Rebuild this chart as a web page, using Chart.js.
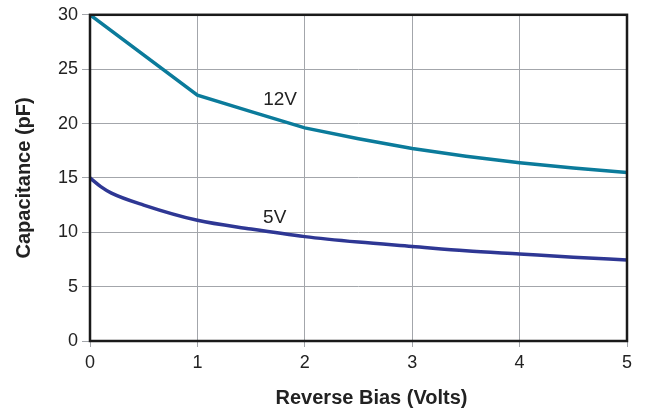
<!DOCTYPE html>
<html>
<head>
<meta charset="utf-8">
<script src="https://cdn.jsdelivr.net/npm/chart.js@4/dist/chart.umd.min.js"></script>
<style>
  html, body { margin: 0; padding: 0; background: #fff; }
  #wrap { width: 645px; height: 415px; }
</style>
</head>
<body>
<div id="wrap"><canvas id="capChart"></canvas></div>
<script>
// reverse bias (V) and capacitance (pF)
const bias12 = [0, 1, 1.5, 2, 2.5, 3, 3.5, 4, 4.5, 5];
const cap12 = [30, 22.6, 21.1, 19.6, 18.6, 17.7, 17.0, 16.4, 15.9, 15.5];
const bias5 = [0, 0.1, 0.2, 0.5, 1, 1.5, 2, 2.5, 3, 3.5, 4, 4.5, 5];
const cap5 = [15, 14.2, 13.6, 12.5, 11.1, 10.3, 9.6, 9.1, 8.7, 8.3, 8.0, 7.7, 7.45];
const xTicks = [0, 1, 2, 3, 4, 5];
const yTicks = [0, 5, 10, 15, 20, 25, 30];
const curveLabels = [
    { text: '12V', x: 1.77, y: 22.2 },
    { text: '5V', x: 1.72, y: 11.3 }
];
const xTitle = 'Reverse Bias (Volts)';

const fontFamily = '"Liberation Sans", Arial, Helvetica, sans-serif';

const toPoints = (xs, ys) => xs.map((x, i) => ({ x: x, y: ys[i] }));

// black frame round the plot area, curve names and the x title
const framePlugin = {
    id: 'frame',
    afterDatasetsDraw(chart) {
        const { ctx, chartArea, scales } = chart;
        ctx.save();
        ctx.fillStyle = '#222';
        ctx.font = '19px ' + fontFamily;
        ctx.textAlign = 'center';
        ctx.textBaseline = 'middle';
        curveLabels.forEach(l => {
            ctx.fillText(l.text, scales.x.getPixelForValue(l.x), scales.y.getPixelForValue(l.y));
        });
        // the x title sits a little right of the plot centre in the original
        ctx.font = 'bold 20px ' + fontFamily;
        ctx.fillText(xTitle, (chartArea.left + chartArea.right) / 2 + 13, chart.height - 17);
        ctx.strokeStyle = '#1a1a1a';
        ctx.lineWidth = 2.5;
        ctx.strokeRect(chartArea.left, chartArea.top, chartArea.right - chartArea.left, chartArea.bottom - chartArea.top);
        ctx.restore();
    }
};

const ctx = document.getElementById('capChart').getContext('2d');
const capChart = new Chart(ctx, {
    type: 'line',
    data: {
        datasets: [{
            label: '12V',
            data: toPoints(bias12, cap12),
            borderColor: '#0b7b9b',
            borderWidth: 3.5,
            pointRadius: 0,
            tension: 0,
            fill: false
        }, {
            label: '5V',
            data: toPoints(bias5, cap5),
            borderColor: '#2e3794',
            borderWidth: 3.5,
            pointRadius: 0,
            cubicInterpolationMode: 'monotone',
            fill: false
        }]
    },
    options: {
        responsive: true,
        maintainAspectRatio: false,
        animation: false,
        layout: { padding: { left: 0, top: 12, right: 18, bottom: 0 } },
        plugins: {
            legend: { display: false },
            tooltip: { enabled: false }
        },
        scales: {
            x: {
                type: 'linear',
                min: 0,
                max: 5,
                afterBuildTicks: scale => { scale.ticks = xTicks.map(v => ({ value: v })); },
                afterFit: scale => { scale.height = 74; },
                grid: { color: '#a3a6ab', lineWidth: 1, tickLength: 6 },
                border: { display: false },
                ticks: {
                    color: '#222',
                    padding: 5,
                    maxRotation: 0,
                    font: { family: fontFamily, size: 18 }
                }
            },
            y: {
                min: 0,
                max: 30,
                afterBuildTicks: scale => { scale.ticks = yTicks.map(v => ({ value: v })); },
                afterFit: scale => { scale.width = 90; },
                grid: { color: '#a3a6ab', lineWidth: 1, tickLength: 8 },
                border: { display: false },
                ticks: {
                    color: '#222',
                    padding: 4,
                    font: { family: fontFamily, size: 18 }
                },
                title: {
                    display: true,
                    text: 'Capacitance (pF)',
                    color: '#222',
                    font: { family: fontFamily, size: 20, weight: 'bold' },
                    padding: { top: 12, bottom: 0 }
                }
            }
        }
    },
    plugins: [framePlugin]
});
</script>
</body>
</html>
